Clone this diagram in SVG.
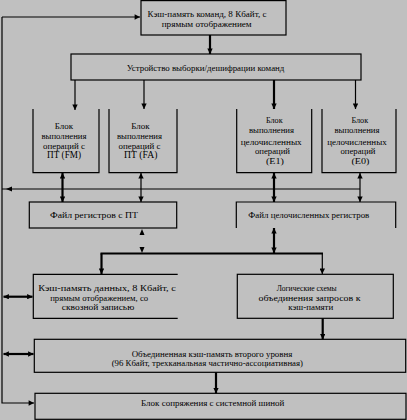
<svg xmlns="http://www.w3.org/2000/svg" width="407" height="420" viewBox="0 0 407 420">
<style>
  text { font-family: "Liberation Serif", "Times New Roman", serif; font-size: 9px; fill: #000; text-anchor: middle; }
  .big { font-size: 10.5px; }
  .box { fill: none; stroke: #000; stroke-width: 1.2; }
  .thin { fill: none; stroke: #000; stroke-width: 1.2; }
  .thick { fill: none; stroke: #000; stroke-width: 2.2; }
</style>
<defs>
  <marker id="ah" viewBox="0 0 6 6" refX="6" refY="3" markerWidth="6" markerHeight="5.4" markerUnits="userSpaceOnUse" orient="auto-start-reverse">
    <path d="M0,0 L6,3 L0,6 z" fill="#000"/>
  </marker>
</defs>
<rect width="407" height="420" fill="#c0c0c0"/>

<g id="connectors">
  <!-- left feedback line -->
  <polyline class="thin" points="2,17 2,403 34,403" marker-end="url(#ah)"/>
  <line class="thin" x1="2" y1="17" x2="140" y2="17" marker-end="url(#ah)"/>
  <!-- cache -> decoder -->
  <line class="thick" x1="210" y1="35" x2="210" y2="54" marker-end="url(#ah)"/>
  <!-- decoder -> exec units -->
  <line class="thin" x1="75" y1="80" x2="75" y2="110" marker-end="url(#ah)"/>
  <line class="thin" x1="144" y1="80" x2="144" y2="109" marker-end="url(#ah)"/>
  <line class="thick" x1="274" y1="80" x2="274" y2="109" marker-end="url(#ah)"/>
  <line class="thin" x1="355.5" y1="80" x2="355.5" y2="109" marker-end="url(#ah)"/>
  <!-- horizontal bus at y=189 -->
  <line class="thin" x1="2" y1="189" x2="360" y2="189"/>
  <polygon points="6,189 12,186.5 12,191.5" fill="#000"/>
  <!-- exec units <-> register files -->
  <line class="thick" x1="62.5" y1="173" x2="62.5" y2="202" marker-start="url(#ah)" marker-end="url(#ah)"/>
  <line class="thin" x1="141" y1="173" x2="141" y2="202" marker-start="url(#ah)" marker-end="url(#ah)"/>
  <line class="thick" x1="274" y1="173" x2="274" y2="202" marker-start="url(#ah)" marker-end="url(#ah)"/>
  <line class="thin" x1="360" y1="173" x2="360" y2="202" marker-start="url(#ah)" marker-end="url(#ah)"/>
  <!-- FP reg file isolated arrowheads -->
  <polygon points="142,229 139.5,235 144.5,235" fill="#000"/>
  <polygon points="139.5,247 144.5,247 142,253" fill="#000"/>
  <!-- thick bus at y=253.5 -->
  <line class="thick" x1="100.5" y1="253.5" x2="323" y2="253.5"/>
  <line class="thick" x1="101.5" y1="253.5" x2="101.5" y2="274" marker-end="url(#ah)"/>
  <line class="thin" x1="322.3" y1="253.5" x2="322.3" y2="274" marker-end="url(#ah)"/>
  <!-- int reg file <-> bus -->
  <line class="thick" x1="274" y1="228" x2="274" y2="253" marker-start="url(#ah)" marker-end="url(#ah)"/>
  <!-- left bidirectional arrows -->
  <line class="thick" x1="3.5" y1="296.7" x2="32.5" y2="296.7" marker-start="url(#ah)" marker-end="url(#ah)"/>
  <line class="thick" x1="3.5" y1="354" x2="33.5" y2="354" marker-start="url(#ah)" marker-end="url(#ah)"/>
  <!-- logic -> L2 -->
  <line class="thick" x1="322.7" y1="318.3" x2="322.7" y2="339.3" marker-end="url(#ah)"/>
  <!-- L2 -> bus interface -->
  <line class="thick" x1="216" y1="372.3" x2="216" y2="393.3" marker-end="url(#ah)"/>
</g>

<g id="icache">
  <rect class="box" x="141" y="0.6" width="145" height="34.4"/>
  <text x="207" y="16.5" textLength="119" lengthAdjust="spacingAndGlyphs">Кэш-память команд, 8 Кбайт, с</text>
  <text x="206.7" y="26.5" textLength="90" lengthAdjust="spacingAndGlyphs">прямым отображением</text>
</g>

<g id="decoder">
  <rect class="box" x="71" y="54" width="290" height="26"/>
  <text x="205.5" y="71" textLength="157.7" lengthAdjust="spacingAndGlyphs">Устройство выборки/дешифрации команд</text>
</g>

<g id="fm">
  <polyline class="box" points="33,109 33,172.7 99,172.7 99,109"/>
  <text x="64" y="129" textLength="18.3" lengthAdjust="spacingAndGlyphs">Блок</text>
  <text x="64" y="138.8" textLength="45" lengthAdjust="spacingAndGlyphs">выполнения</text>
  <text x="64" y="148.6" textLength="42" lengthAdjust="spacingAndGlyphs">операций с</text>
  <text class="big" x="64" y="158.4" textLength="34" lengthAdjust="spacingAndGlyphs">ПТ (FM)</text>
</g>

<g id="fa">
  <polyline class="box" points="109,109 109,172.7 177,172.7 177,109"/>
  <text x="140.5" y="129" textLength="18.3" lengthAdjust="spacingAndGlyphs">Блок</text>
  <text x="139.5" y="138.8" textLength="45" lengthAdjust="spacingAndGlyphs">выполнения</text>
  <text x="139.5" y="148.6" textLength="42" lengthAdjust="spacingAndGlyphs">операций с</text>
  <text class="big" x="140.7" y="158.4" textLength="33.3" lengthAdjust="spacingAndGlyphs">ПТ (FA)</text>
</g>

<g id="e1">
  <polyline class="box" points="236.7,109 236.7,172.7 311.7,172.7 311.7,109"/>
  <text x="274.3" y="123.3" textLength="16.7" lengthAdjust="spacingAndGlyphs">Блок</text>
  <text x="271.5" y="133.3" textLength="45" lengthAdjust="spacingAndGlyphs">выполнения</text>
  <text x="271.2" y="145" textLength="61" lengthAdjust="spacingAndGlyphs">целочисленных</text>
  <text x="272.5" y="154" textLength="35" lengthAdjust="spacingAndGlyphs">операций</text>
  <text x="275" y="164" textLength="18" lengthAdjust="spacingAndGlyphs">(E1)</text>
</g>

<g id="e0">
  <polyline class="box" points="322,109 322,172.7 396,172.7 396,109"/>
  <text x="359.8" y="123.3" textLength="16.7" lengthAdjust="spacingAndGlyphs">Блок</text>
  <text x="357" y="133.3" textLength="45" lengthAdjust="spacingAndGlyphs">выполнения</text>
  <text x="357" y="145" textLength="59.4" lengthAdjust="spacingAndGlyphs">целочисленных</text>
  <text x="358" y="154" textLength="35" lengthAdjust="spacingAndGlyphs">операций</text>
  <text x="360.5" y="164" textLength="18" lengthAdjust="spacingAndGlyphs">(E0)</text>
</g>

<g id="fpregs">
  <rect class="box" x="29.3" y="202" width="147.4" height="26"/>
  <text x="94" y="218" textLength="88" lengthAdjust="spacingAndGlyphs">Файл регистров с ПТ</text>
</g>

<g id="intregs">
  <polyline class="box" points="236.3,228 236.3,202 395.7,202 395.7,228"/>
  <text x="308.8" y="218" textLength="121" lengthAdjust="spacingAndGlyphs">Файл целочисленных регистров</text>
</g>

<g id="dcache">
  <polyline class="box" points="177.7,274.3 33.3,274.3 33.3,318.3 177.7,318.3"/>
  <text x="107" y="291.3" textLength="137.7" lengthAdjust="spacingAndGlyphs">Кэш-память данных, 8 Кбайт, с</text>
  <text x="99.2" y="300.7" textLength="98" lengthAdjust="spacingAndGlyphs">прямым отображением, со</text>
  <text x="98" y="310.3" textLength="72.6" lengthAdjust="spacingAndGlyphs">сквозной записью</text>
</g>

<g id="logic">
  <rect class="box" x="237.3" y="274.3" width="156" height="44"/>
  <text x="306.7" y="291.3" textLength="60" lengthAdjust="spacingAndGlyphs">Логические схемы</text>
  <text x="309.5" y="300.7" textLength="102" lengthAdjust="spacingAndGlyphs">объединения запросов к</text>
  <text x="310.8" y="310.3" textLength="45" lengthAdjust="spacingAndGlyphs">кэш-памяти</text>
</g>

<g id="l2cache">
  <rect class="box" x="34.3" y="339.3" width="371.4" height="33"/>
  <text x="212" y="357" textLength="160.6" lengthAdjust="spacingAndGlyphs">Объединенная кэш-память второго уровня</text>
  <text x="207.3" y="366.3" textLength="191.3" lengthAdjust="spacingAndGlyphs">(96 Кбайт, трехканальная частично-ассоциативная)</text>
</g>

<g id="businterface">
  <rect class="box" x="35" y="393.3" width="371" height="26"/>
  <text x="212.7" y="406.3" textLength="143.3" lengthAdjust="spacingAndGlyphs">Блок сопряжения с системной шиной</text>
</g>
</svg>
